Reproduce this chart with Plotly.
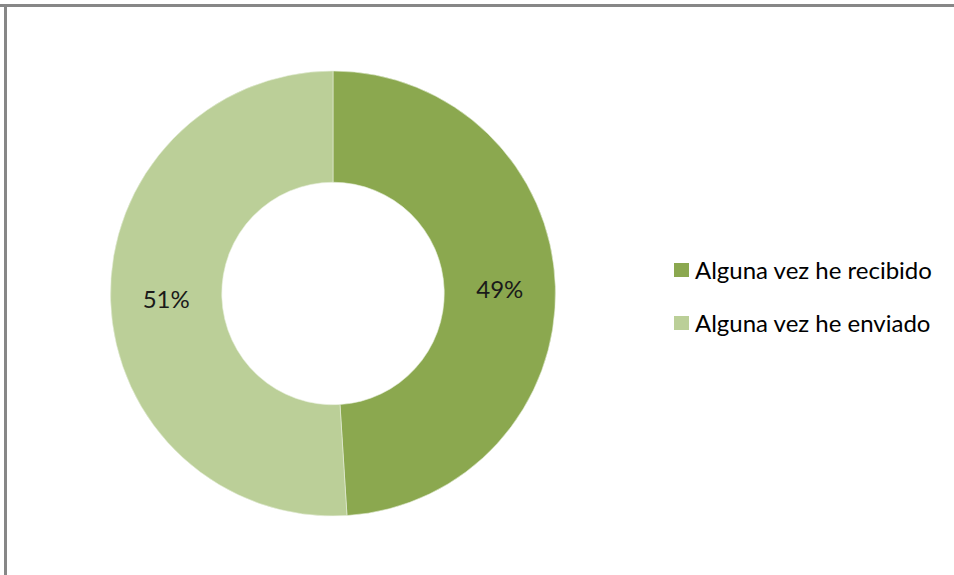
import plotly.graph_objects as go

labels = ["Alguna vez he recibido", "Alguna vez he enviado"]
values = [49, 51]
colors = ["#8BA84F", "#BBCF98"]

W, H = 954, 575

fig = go.Figure()
fig.add_trace(go.Pie(
    labels=labels,
    values=values,
    hole=0.5,
    sort=False,
    direction="clockwise",
    rotation=0,
    marker=dict(colors=colors, line=dict(color="#E6EEDA", width=0.6)),
    textinfo="percent",
    texttemplate="%{percent:.0%}",
    textposition="inside",
    insidetextorientation="horizontal",
    textfont=dict(family="Lato", size=24, color="#1a1a1a"),
    domain=dict(x=[110 / W, 556 / W], y=[(H - 516) / H, (H - 71) / H]),
    showlegend=False,
    hoverinfo="label+percent",
))

# legend drawn manually to match row spacing
row_y = [270, 323]
for lab, col, yc in zip(labels, colors, row_y):
    fig.add_shape(type="rect", xref="paper", yref="paper",
                  x0=674 / W, x1=689 / W,
                  y0=(H - yc - 7) / H, y1=(H - yc + 7) / H,
                  fillcolor=col, line=dict(width=0))
    fig.add_annotation(x=693 / W, y=(H - yc + 1) / H, xref="paper", yref="paper",
                       text=lab, showarrow=False, xanchor="left", yanchor="middle",
                       font=dict(family="Lato", size=24, color="#000000"))

# frame lines (top and left)
fig.add_shape(type="line", xref="paper", yref="paper", x0=0, x1=1,
              y0=(H - 5.5) / H, y1=(H - 5.5) / H, line=dict(color="#878787", width=3))
fig.add_shape(type="line", xref="paper", yref="paper", x0=5.5 / W, x1=5.5 / W,
              y0=0, y1=(H - 4) / H, line=dict(color="#878787", width=3))

fig.update_layout(
    width=W, height=H,
    margin=dict(l=0, r=0, t=0, b=0),
    paper_bgcolor="white",
    plot_bgcolor="white",
)

fig.write_html("out.html")
